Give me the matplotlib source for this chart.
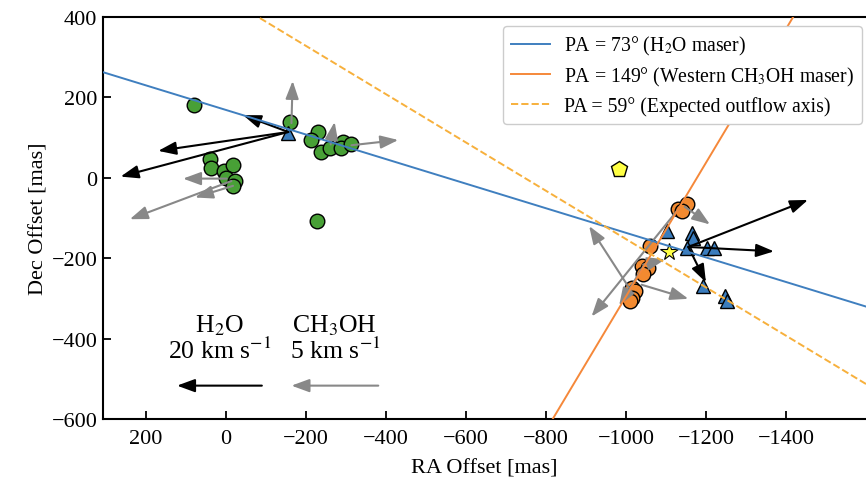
import numpy as np
import matplotlib
matplotlib.use("Agg")
import matplotlib.pyplot as plt

plt.rcParams['font.family'] = ['Liberation Serif', 'DejaVu Serif']
plt.rcParams['mathtext.fontset'] = 'stix'

# ---------------- data (mas) ----------------
# Eastern CH3OH maser spots (green)
ch3oh_e_ra = [79, 40, 36, 5, -18, 0, -22, -18, -160, -231, -212, -239, -260, -293, -289, -314, -227]
ch3oh_e_dec = [181, 46, 25, 17, 31, 0, -8, -20, 138, 113, 94, 64, 75, 88, 75, 84, -108]

# Western CH3OH maser spots (orange)
ch3oh_w_ra = [-1131, -1152, -1139, -1060, -1039, -1056, -1043, -1014, -1023, -1014, -1010]
ch3oh_w_dec = [-78, -66, -83, -170, -220, -224, -240, -274, -282, -299, -307]

# H2O maser spots (blue triangles)
h2o_ra = [-156, -1102, -1164, -1168, -1152, -1202, -1220, -1193, -1247, -1252]
h2o_dec = [111, -133, -137, -149, -174, -174, -174, -270, -295, -307]

# Pentagon and star
pent_ra, pent_dec = [-983], [21]
star_ra, star_dec = [-1108], [-184]

# H2O proper-motion arrows (black): start and end
h2o_arr_x0 = [-156, -156, -156, -1156, -1156, -1156]
h2o_arr_y0 = [114, 114, 114, -172, -172, -172]
h2o_arr_x1 = [-43, 169, 263, -1455, -1370, -1200]
h2o_arr_y1 = [156, 67, 3, -55, -183, -260]

# CH3OH proper-motion arrows (grey): start and end
ch3oh_arr_x0 = [-164, -262, -314, -2, -18, -14, -1147, -1131, -1012, -1039, -1043, -1043]
ch3oh_arr_y0 = [136, 83, 81, -2, -20, -8, -72, -78, -280, -266, -216, -221]
ch3oh_arr_x1 = [-167, -272, -431, 107, 77, 240, -1210, -914, -908, -1156, -1098, -983]
ch3oh_arr_y1 = [241, 139, 94, -2, -49, -103, -116, -345, -120, -301, -203, -318]

# Position-angle lines: PA (deg) and a point on each line
pa_angles = [73, 149, 59]
pa_points_ra = [-500, -817, -297]
pa_points_dec = [16, -600, 270]
pa_labels = [r'PA = 73° (H$_2$O maser)',
             r'PA = 149° (Western CH$_3$OH maser)',
             r'PA = 59° (Expected outflow axis)']

# Scale arrows
scale_labels = [('H$_2$O', '20 km s$^{-1}$'), ('CH$_3$OH', '5 km s$^{-1}$')]
scale_x0 = [-90, -381]
scale_x1 = [122, -164]
scale_y = -517

xticks = [200, 0, -200, -400, -600, -800, -1000, -1200, -1400]
yticks = [400, 200, 0, -200, -400, -600]

# ---------------- figure ----------------
fig = plt.figure(figsize=(8.66, 4.85), dpi=100)
ax = fig.add_axes([103/866, 1-420/485, 1-103/866, (420-18)/485])
ax.set_xlim(307, -1600)
ax.set_ylim(-600, 400)

green = '#48a036'
orange = '#f28a30'
blue = '#3a7cbd'

ax.plot(ch3oh_e_ra, ch3oh_e_dec, 'o', ms=10.5, mfc=green, mec='black', mew=1.0, zorder=2)
ax.plot(ch3oh_w_ra, ch3oh_w_dec, 'o', ms=10.5, mfc=orange, mec='black', mew=1.0, zorder=2)
ax.plot(h2o_ra, h2o_dec, '^', ms=10.5, mfc=blue, mec='black', mew=1.0, zorder=2)
ax.plot(pent_ra, pent_dec, 'p', ms=12, mfc='#ffff44', mec='black', mew=1.0, zorder=2)
ax.plot(star_ra, star_dec, '*', ms=13, mfc='#ffff44', mec='black', mew=0.8, zorder=2)

def arrow(x0, y0, x1, y1, color):
    ax.annotate('', xy=(x1, y1), xytext=(x0, y0),
                arrowprops=dict(arrowstyle='-|>,head_length=0.6,head_width=0.22',
                                color=color, lw=1.5, shrinkA=0, shrinkB=0,
                                mutation_scale=18), zorder=3)

for a, b, c, d in zip(h2o_arr_x0, h2o_arr_y0, h2o_arr_x1, h2o_arr_y1):
    arrow(a, b, c, d, 'black')
for a, b, c, d in zip(ch3oh_arr_x0, ch3oh_arr_y0, ch3oh_arr_x1, ch3oh_arr_y1):
    arrow(a, b, c, d, '#888888')

line_styles = [dict(color='#3f7fbf', ls='-', lw=1.4),
               dict(color='#f5883a', ls='-', lw=1.4),
               dict(color='#f7b03c', ls='--', lw=1.4)]
for pa, px, py, lab, st in zip(pa_angles, pa_points_ra, pa_points_dec, pa_labels, line_styles):
    slope = np.cos(np.radians(pa)) / np.sin(np.radians(pa))
    ax.axline((px, py), slope=slope, label=lab, zorder=4, **st)

# scale arrows
for (t1, t2), x0, x1, col in zip(scale_labels, scale_x0, scale_x1, ['black', '#888888']):
    arrow(x0, scale_y, x1, scale_y, col)
    xc = (x0 + x1) / 2
    ax.text(xc, -366, t1, ha='center', va='center', fontsize=18.5)
    ax.text(xc, -428, t2, ha='center', va='center', fontsize=18.5)

ax.set_xticks(xticks)
ax.set_yticks(yticks)
ax.tick_params(direction='in', length=6, width=1.3, labelsize=16, top=False, right=False)
ax.tick_params(axis='x', pad=7)
ax.tick_params(axis='y', pad=4)
for s in ['left', 'bottom', 'top']:
    ax.spines[s].set_linewidth(1.5)
ax.spines['right'].set_visible(False)
ax.set_xlabel('RA Offset [mas]', fontsize=16, labelpad=8)
ax.set_ylabel('Dec Offset [mas]', fontsize=16, labelpad=2)

leg = ax.legend(loc='upper right', bbox_to_anchor=(862/866, 1-27/485),
                bbox_transform=fig.transFigure, fontsize=14.2, frameon=True,
                fancybox=True, edgecolor='#cccccc', framealpha=1,
                handlelength=2.0, handletextpad=0.7, labelspacing=0.4,
                borderaxespad=0)

fig.savefig('out.png', dpi=100)
